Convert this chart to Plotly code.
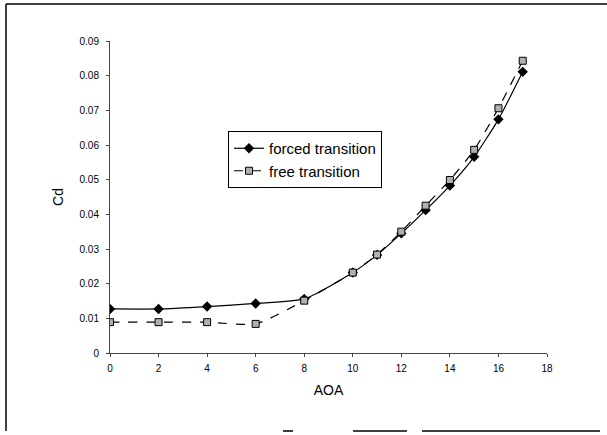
import plotly.graph_objects as go

aoa = [0, 2, 4, 6, 8, 10, 11, 12, 13, 14, 15, 16, 17]
cd_forced = [0.0127, 0.0127, 0.0134, 0.0143, 0.0156, 0.0232, 0.0283, 0.0345, 0.0412, 0.0483, 0.0566, 0.0674, 0.0811]
cd_free = [0.0089, 0.0089, 0.0089, 0.0084, 0.0151, 0.0232, 0.0284, 0.0350, 0.0425, 0.0499, 0.0586, 0.0706, 0.0843]
y_ticks = [0, 0.01, 0.02, 0.03, 0.04, 0.05, 0.06, 0.07, 0.08, 0.09]
y_labels = ["0", "0.01", "0.02", "0.03", "0.04", "0.05", "0.06", "0.07", "0.08", "0.09"]
x_ticks = [0, 2, 4, 6, 8, 10, 12, 14, 16, 18]

W, H = 607, 435
L, R, T, B = 110, 60, 41, 82
pw, ph = W - L - R, H - T - B

def px(x):
    return (x - L) / pw

def py(y):
    return (H - B - y) / ph

fig = go.Figure()
fig.add_trace(go.Scatter(
    x=aoa, y=cd_forced, name="forced transition", mode="lines+markers",
    line=dict(color="black", width=1.2, shape="spline", smoothing=0.6),
    marker=dict(symbol="diamond", size=8, color="black"),
))
fig.add_trace(go.Scatter(
    x=aoa, y=cd_free, name="free transition", mode="lines+markers",
    line=dict(color="black", width=1.2, dash="dash", shape="spline", smoothing=0.6),
    marker=dict(symbol="square", size=7, color="#b0b0b0", line=dict(color="black", width=1)),
))

font = "Liberation Sans, Arial, sans-serif"
fig.update_layout(
    width=W, height=H,
    margin=dict(l=L, r=R, t=T, b=B),
    paper_bgcolor="white", plot_bgcolor="white",
    font=dict(family=font, color="black"),
    showlegend=True,
    legend=dict(
        x=px(228), y=py(131), xanchor="left", yanchor="top",
        bgcolor="white", bordercolor="black", borderwidth=1,
        font=dict(size=15, family=font),
        tracegroupgap=0, itemwidth=30,
    ),
    xaxis=dict(
        range=[0, 18], tickvals=x_ticks, showgrid=False, zeroline=False,
        showline=True, linecolor="#444", linewidth=1,
        ticks="outside", ticklen=3, tickcolor="#444",
        tickfont=dict(size=10, family=font), ticklabelstandoff=3,
        title=dict(text="AOA", font=dict(size=14), standoff=12),
    ),
    yaxis=dict(
        range=[0, 0.09], tickvals=y_ticks, ticktext=y_labels, showgrid=False, zeroline=False,
        showline=True, linecolor="#444", linewidth=1,
        ticks="outside", ticklen=3, tickcolor="#444",
        tickfont=dict(size=10, family=font), ticklabelstandoff=5,
        title=dict(text="Cd", font=dict(size=14), standoff=12),
    ),
)

# outer frame of the scanned figure
frame = [
    (6, 4, 6, 431),
    (6, 4, 607, 4),
    (283, 431, 293, 431),
    (353, 431, 407, 431),
    (422, 431, 600, 431),
]
for x0, y0, x1, y1 in frame:
    fig.add_shape(type="line", xref="paper", yref="paper",
                  x0=px(x0), y0=py(y0), x1=px(x1), y1=py(y1),
                  line=dict(color="black", width=1.5))

fig.write_html(
    "out.html",
    config={"displayModeBar": False},
    post_script="document.body.style.margin='0';document.body.style.overflow='hidden';",
)
